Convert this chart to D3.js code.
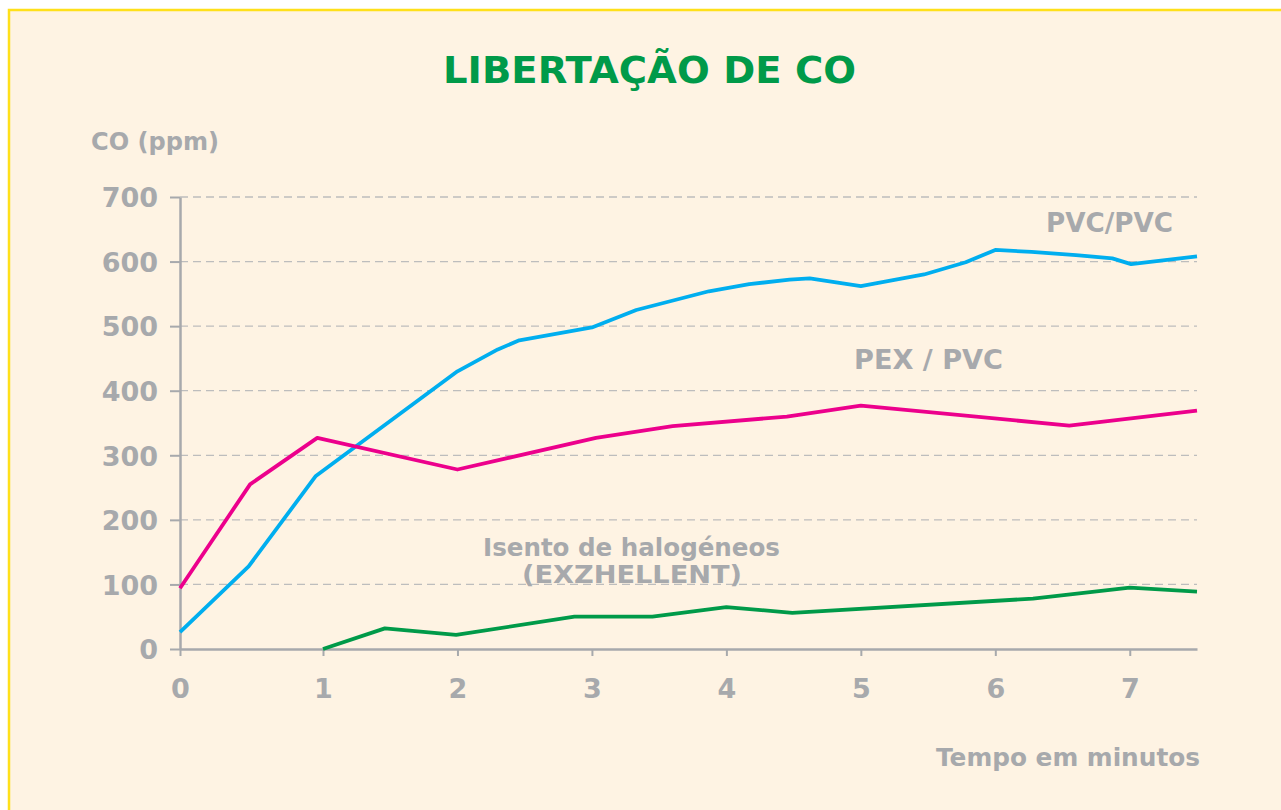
<!DOCTYPE html>
<html lang="pt">
<head>
<meta charset="UTF-8">
<title>Libertação de CO</title>
<style>
  html, body { margin: 0; padding: 0; background: #ffffff; }
  svg { display: block; }
  text { font-family: "DejaVu Sans", sans-serif; font-weight: bold; }
</style>
</head>
<body>
<svg id="chart" width="1281" height="810"></svg>
<script src="https://cdn.jsdelivr.net/npm/d3@7"></script>
<script>
// ---- dados ----
const yTicks = [0, 100, 200, 300, 400, 500, 600, 700];
const xTicks = [0, 1, 2, 3, 4, 5, 6, 7];

const pvcTime  = [0, 0.48, 0.95, 2, 2.3, 2.46, 3, 3.33, 3.87, 4.17, 4.47, 4.62, 5, 5.47, 5.78, 6, 6.27, 6.6, 6.87, 7.01, 7.5];
const pvcCO    = [26, 128, 268, 430, 464, 478, 498, 525, 554, 565, 572, 574, 562, 580, 599, 618, 615, 610, 605, 596, 608];

const pexTime  = [0, 0.49, 0.96, 2, 3.03, 3.6, 4.45, 5, 6.55, 7.5];
const pexCO    = [94, 255, 327, 278, 327, 345, 360, 377, 346, 369];

const halTime  = [1, 1.46, 1.99, 2.87, 3.45, 4, 4.49, 6.28, 7, 7.5];
const halCO    = [0, 32, 22, 50, 50, 65, 56, 78, 95, 89];

const grey = "#a7a9ac";

const svg = d3.select("#chart");

// fundo e moldura
svg.append("rect")
  .attr("x", 9).attr("y", 10)
  .attr("width", 1290).attr("height", 820)
  .attr("fill", "#fef3e3")
  .attr("stroke", "#ffe01a")
  .attr("stroke-width", 2.5);

// escalas (o eixo original tem o primeiro minuto ligeiramente mais largo)
const x = d3.scaleLinear().domain([0, 1, 7.5]).range([180, 323, 1197]);
const y = d3.scaleLinear().domain([0, 700]).range([649, 197]);

// grelha tracejada
svg.append("g")
  .selectAll("line")
  .data(yTicks.filter(d => d > 0))
  .join("line")
  .attr("x1", x(0)).attr("x2", x(7.5))
  .attr("y1", d => y(d)).attr("y2", d => y(d))
  .attr("stroke", "#bdbdbd")
  .attr("stroke-width", 1.3)
  .attr("stroke-dasharray", "8 5");

// eixo Y
const yAxis = svg.append("g")
  .attr("transform", `translate(${x(0)},0)`)
  .call(d3.axisLeft(y).tickValues(yTicks).tickSize(10).tickSizeOuter(0).tickPadding(12));

// eixo X
const xAxis = svg.append("g")
  .attr("transform", `translate(0,${y(0)})`)
  .call(d3.axisBottom(x).tickValues(xTicks).tickFormat(d3.format("d")).tickSize(7).tickSizeOuter(0).tickPadding(23));

[yAxis, xAxis].forEach(g => {
  g.select(".domain").attr("stroke", grey).attr("stroke-width", 2.5);
  g.selectAll(".tick line").attr("stroke", grey).attr("stroke-width", 2);
  g.selectAll(".tick text")
    .attr("fill", grey)
    .attr("font-size", 27)
    .attr("font-family", "DejaVu Sans, sans-serif")
    .attr("font-weight", "bold");
});
yAxis.selectAll(".tick text").attr("dy", "0.36em");

// linhas
const line = d3.line().x(d => x(d[0])).y(d => y(d[1]));
const series = [
  { t: pvcTime, v: pvcCO, color: "#00aeef" },
  { t: pexTime, v: pexCO, color: "#ec008c" },
  { t: halTime, v: halCO, color: "#009a49" }
];
svg.append("g")
  .selectAll("path")
  .data(series)
  .join("path")
  .attr("d", s => line(d3.zip(s.t, s.v)))
  .attr("fill", "none")
  .attr("stroke", s => s.color)
  .attr("stroke-width", 3.8)
  .attr("stroke-linejoin", "round");

// textos
const label = (txt, xPos, yPos, size, len, color, anchor) =>
  svg.append("text")
    .text(txt)
    .attr("x", xPos).attr("y", yPos)
    .attr("font-size", size)
    .attr("fill", color || grey)
    .attr("text-anchor", anchor || "start")
    .attr("textLength", len)
    .attr("lengthAdjust", "spacingAndGlyphs");

label("LIBERTAÇÃO DE CO", 443, 83, 38, 413, "#009a49");
label("CO (ppm)", 91, 150, 25, 128);
label("Tempo em minutos", 936, 766, 25, 264);
label("PVC/PVC", 1046, 232, 26, 127);
label("PEX / PVC", 854, 369, 26, 149);
label("Isento de halogéneos", 483, 556, 25, 297);
label("(EXZHELLENT)", 522, 583, 25, 220);
</script>
</body>
</html>
